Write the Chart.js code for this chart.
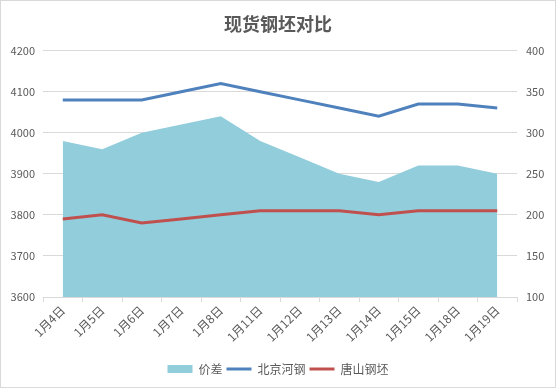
<!DOCTYPE html>
<html>
<head>
<meta charset="utf-8">
<script src="https://cdn.jsdelivr.net/npm/chart.js@4/dist/chart.umd.min.js"></script>
<style>
  body { margin: 0; background: #fff; }
  #wrap { width: 556px; height: 388px; }
</style>
</head>
<body>
<div id="wrap"><canvas id="myChart" width="556" height="388"></canvas></div>
<script>
const days = ['1月4日', '1月5日', '1月6日', '1月7日', '1月8日', '1月11日', '1月12日', '1月13日', '1月14日', '1月15日', '1月18日', '1月19日'];
const beijing = [4080, 4080, 4080, 4100, 4120, 4100, 4080, 4060, 4040, 4070, 4070, 4060];
const tangshan = [3790, 3800, 3780, 3790, 3800, 3810, 3810, 3810, 3800, 3810, 3810, 3810];
const spread = [290, 280, 300, 310, 320, 290, 270, 250, 240, 260, 260, 250];

const txt = '#595959';
const gridColor = '#d9d9d9';
const font = "'Noto Sans CJK SC', 'Noto Sans', sans-serif";

// white background + thin frame like the excel chart border
const frame = {
  id: 'frame',
  beforeDraw(chart) {
    const c = chart.ctx;
    c.save();
    c.fillStyle = '#fff';
    c.fillRect(0, 0, chart.width, chart.height);
    c.strokeStyle = '#d9d9d9';
    c.lineWidth = 1;
    c.strokeRect(0.5, 0.5, chart.width - 1, chart.height - 1);
    c.restore();
  }
};

var ctx = document.getElementById('myChart').getContext('2d');
var chart = new Chart(ctx, {
  type: 'line',
  data: {
    labels: days,
    datasets: [
      {
        label: '价差',
        data: spread,
        yAxisID: 'y1',
        fill: 'start',
        backgroundColor: '#92cddc',
        borderWidth: 0,
        pointRadius: 0,
        pointStyle: 'rect'
      },
      {
        label: '北京河钢',
        data: beijing,
        yAxisID: 'y',
        borderColor: '#4f81bd',
        backgroundColor: '#4f81bd',
        borderWidth: 3,
        pointRadius: 0,
        pointStyle: 'line',
        fill: false
      },
      {
        label: '唐山钢坯',
        data: tangshan,
        yAxisID: 'y',
        borderColor: '#c0504d',
        backgroundColor: '#c0504d',
        borderWidth: 3,
        pointRadius: 0,
        pointStyle: 'line',
        fill: false
      }
    ]
  },
  options: {
    responsive: false,
    animation: false,
    layout: { padding: { left: 0, right: 0, top: 0, bottom: 3 } },
    plugins: {
      filler: { drawTime: 'beforeDatasetsDraw' },
      tooltip: { enabled: false },
      title: {
        display: true,
        text: '现货钢坯对比',
        color: txt,
        font: { family: font, size: 18, weight: 'bold' },
        padding: { top: 13, bottom: 16 }
      },
      legend: {
        position: 'bottom',
        labels: {
          usePointStyle: true,
          pointStyleWidth: 25,
          boxHeight: 8,
          padding: 4,
          color: txt,
          font: { family: font, size: 12 }
        }
      }
    },
    scales: {
      x: {
        offset: true,
        grid: {
          offset: true,
          drawOnChartArea: false,
          drawTicks: true,
          tickLength: 5,
          color: gridColor
        },
        border: { display: true, color: gridColor },
        ticks: {
          color: txt,
          font: { family: font, size: 12 },
          maxRotation: 45,
          minRotation: 45,
          autoSkip: false,
          padding: 1
        },
        afterFit(s) { s.height = 62; }
      },
      y: {
        position: 'left',
        min: 3600,
        max: 4200,
        ticks: {
          stepSize: 100,
          color: txt,
          font: { family: font, size: 11 },
          padding: 8,
          callback: v => String(v)
        },
        grid: { color: gridColor, drawTicks: false },
        border: { display: false },
        afterFit(s) { s.width = 43; }
      },
      y1: {
        position: 'right',
        min: 100,
        max: 400,
        ticks: {
          stepSize: 50,
          color: txt,
          font: { family: font, size: 11 },
          padding: 9,
          callback: v => String(v)
        },
        grid: { drawOnChartArea: false, drawTicks: false },
        border: { display: false },
        afterFit(s) { s.width = 39; }
      }
    }
  },
  plugins: [frame]
});
</script>
</body>
</html>
